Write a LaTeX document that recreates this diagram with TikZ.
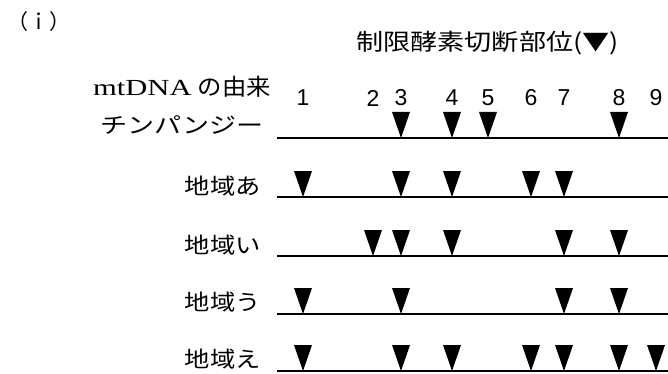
\documentclass[tikz,border=0pt]{standalone}
\usepackage{fontspec}
\setmainfont{Liberation Serif}
\newfontfamily\jp{Noto Sans CJK JP}
\newfontfamily\numf{Liberation Sans}
\begin{document}
\begin{tikzpicture}[x=1pt,y=-1pt,
  lbl/.style={font=\jp\fontsize{22}{22}\selectfont\addfontfeature{FakeStretch=1.15}, anchor=east, inner sep=0pt},
  numlbl/.style={font=\numf\fontsize{23}{23}\selectfont, inner sep=0pt},
  dnaline/.style={line width=2.2pt},
  cutmark/.style={fill=black}]
\useasboundingbox (0,0) rectangle (668,374);
\node[font=\jp\fontsize{21}{21}\selectfont, anchor=west, inner sep=0pt] (part) at (7,22) {（ｉ）};
\node[font=\jp\fontsize{23}{23}\selectfont\addfontfeature{FakeStretch=1.18}, anchor=west, inner sep=0pt] (title) at (356,43) {制限酵素切断部位(▼)};
\node[anchor=east, inner sep=0pt] (origin) at (271,87) {\fontsize{23}{23}\selectfont{\addfontfeature{FakeStretch=1.33}mtDNA}\hspace{6pt}{\jp\addfontfeature{FakeStretch=1.06}の由来}};
% site numbers
\foreach \i/\x in {1/303,2/373,3/401,4/452,5/488,6/531,7/564,8/619,9/656}
  \node[numlbl] (n\i) at (\x,98) {\i};
% rows
\foreach \r/\y in {c/138,a/197,b/256,u/314,e/371}{
  \coordinate (\r s) at (277,\y);
  \coordinate (\r e) at (668,\y);
  \draw[dnaline] (\r s) -- (\r e);
}
\node[lbl, font=\jp\fontsize{22}{22}\selectfont\addfontfeature{FakeStretch=1.23}] (lc) at (264,125) {チンパンジー};
\node[lbl] (la) at (261,186) {地域あ};
\node[lbl] (lb) at (261,245) {地域い};
\node[lbl] (lu) at (261,302) {地域う};
\node[lbl] (le) at (261,359) {地域え};
% cut sites
\foreach \r/\y/\list in {c/138/{3,4,5,8},a/197/{1,3,4,6,7},b/256/{2,3,4,7,8},u/314/{1,3,7,8},e/371/{1,3,4,6,7,8,9}}{
  \foreach \k in \list {
    \path (n\k.center) ++(0,\y-98) coordinate (t\r\k);
    \fill[cutmark] (t\r\k) ++(-9,-26) -- ++(18,0) -- (t\r\k) -- cycle;
  }
}
\end{tikzpicture}
\end{document}
